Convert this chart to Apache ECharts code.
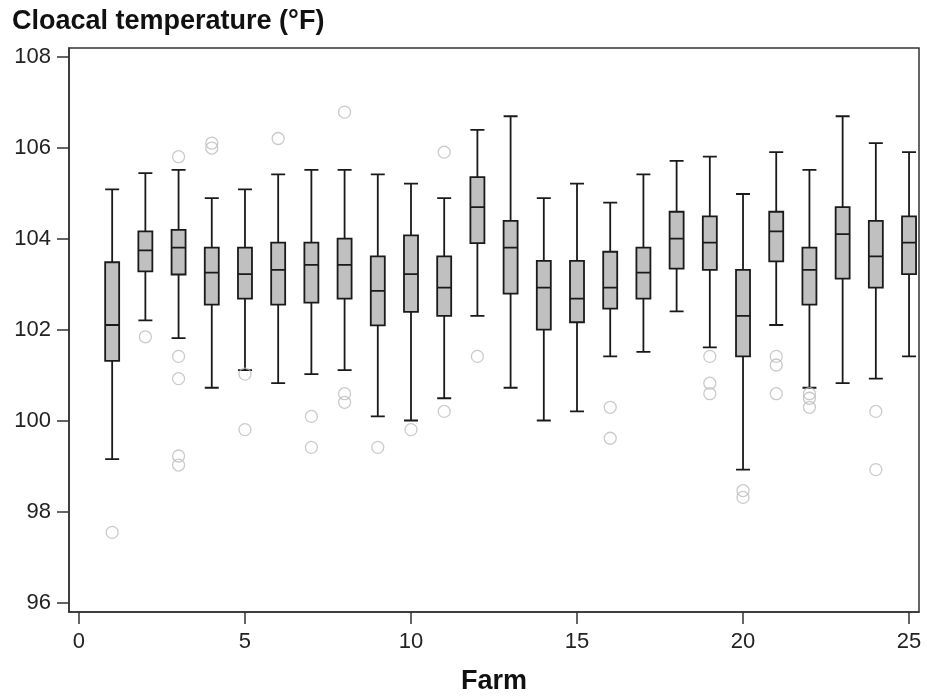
<!DOCTYPE html>
<html>
<head>
<meta charset="utf-8">
<script src="https://cdn.jsdelivr.net/npm/echarts@6/dist/echarts.min.js"></script>
<style>html,body{margin:0;padding:0;background:#fff;}#c{width:927px;height:700px;}</style>
</head>
<body>
<div id="c"></div>
<script>
const farms   = [1,2,3,4,5,6,7,8,9,10,11,12,13,14,15,16,17,18,19,20,21,22,23,24,25];
const mins    = [99.16,102.21,101.82,100.73,101.12,100.83,101.03,101.12,100.10,100.01,100.50,102.31,100.73,100.01,100.21,101.42,101.52,102.41,101.62,98.93,102.11,100.73,100.83,100.93,101.42];
const q1s     = [101.32,103.29,103.22,102.56,102.69,102.56,102.60,102.69,102.10,102.40,102.31,103.91,102.80,102.01,102.17,102.47,102.69,103.35,103.32,101.42,103.51,102.56,103.13,102.93,103.23];
const medians = [102.11,103.75,103.81,103.26,103.23,103.32,103.43,103.43,102.86,103.23,102.93,104.70,103.81,102.93,102.69,102.93,103.26,104.01,103.92,102.31,104.17,103.32,104.11,103.62,103.92];
const q3s     = [103.49,104.17,104.20,103.81,103.81,103.92,103.92,104.01,103.62,104.08,103.62,105.36,104.40,103.52,103.52,103.72,103.81,104.60,104.50,103.32,104.60,103.81,104.70,104.40,104.50];
const maxs    = [105.09,105.45,105.52,104.90,105.09,105.42,105.52,105.52,105.42,105.22,104.90,106.40,106.70,104.90,105.22,104.80,105.42,105.72,105.81,104.99,105.91,105.52,106.70,106.11,105.91];

const outlierFarm  = [1,2,3,3,3,3,3,4,4,5,5,6,7,7,8,8,8,9,10,11,11,12,16,16,19,19,19,20,20,21,21,21,22,22,22,24,24];
const outlierValue = [97.55,101.85,105.81,101.42,100.93,99.23,99.03,106.11,106.00,101.03,99.81,106.21,100.10,99.42,106.79,100.60,100.41,99.42,99.81,105.91,100.21,101.42,100.30,99.62,101.42,100.83,100.60,98.47,98.32,101.42,101.23,100.60,100.60,100.50,100.30,100.21,98.93];

const yTicks = [96,98,100,102,104,106,108];
const xTicks = [0,5,10,15,20,25];

const boxData = farms.map((f,i)=>[f, mins[i], q1s[i], medians[i], q3s[i], maxs[i]]);
const outData = outlierFarm.map((f,i)=>[f, outlierValue[i]]);

const chart = echarts.init(document.getElementById('c'), null, {renderer:'canvas'});
const FONT = '"Liberation Sans", Arial, sans-serif';
chart.setOption({
  animation:false,
  backgroundColor:'#fff',
  title:{
    text:'Cloacal temperature (°F)',
    left:7, top:3,
    textStyle:{fontFamily:FONT, fontWeight:'bold', fontSize:27, color:'#111'}
  },
  grid:{left:69, right:8, top:48, bottom:88, show:true, borderColor:'#333', borderWidth:1.5, backgroundColor:'transparent'},
  xAxis:{
    type:'value', min:-0.3, max:25.3,
    name:'Farm', nameLocation:'middle', nameGap:56,
    nameTextStyle:{fontFamily:FONT, fontWeight:'bold', fontSize:27, color:'#111'},
    axisLine:{show:true, onZero:false, lineStyle:{color:'#333', width:1.5}},
    axisTick:{show:true, length:12, lineStyle:{color:'#333', width:1.5}, customValues:xTicks},
    axisLabel:{fontFamily:FONT, fontSize:22, color:'#222', margin:19, customValues:xTicks},
    splitLine:{show:false}
  },
  yAxis:{
    type:'value', min:95.8, max:108.2,
    axisLine:{show:true, onZero:false, lineStyle:{color:'#333', width:1.5}},
    axisTick:{show:true, length:12, lineStyle:{color:'#333', width:1.5}, customValues:yTicks},
    axisLabel:{fontFamily:FONT, fontSize:22, color:'#222', margin:18, customValues:yTicks},
    splitLine:{show:false}
  },
  series:[
    {
      type:'boxplot',
      data:boxData,
      boxWidth:[14,14],
      itemStyle:{color:'#c0c0c0', borderColor:'#1a1a1a', borderWidth:1.8},
      z:2
    },
    {
      type:'scatter',
      data:outData,
      symbol:'circle',
      symbolSize:12,
      itemStyle:{color:'rgba(0,0,0,0)', borderColor:'#bdbdbd', borderWidth:1.3},
      z:3
    }
  ]
});
</script>
</body>
</html>
